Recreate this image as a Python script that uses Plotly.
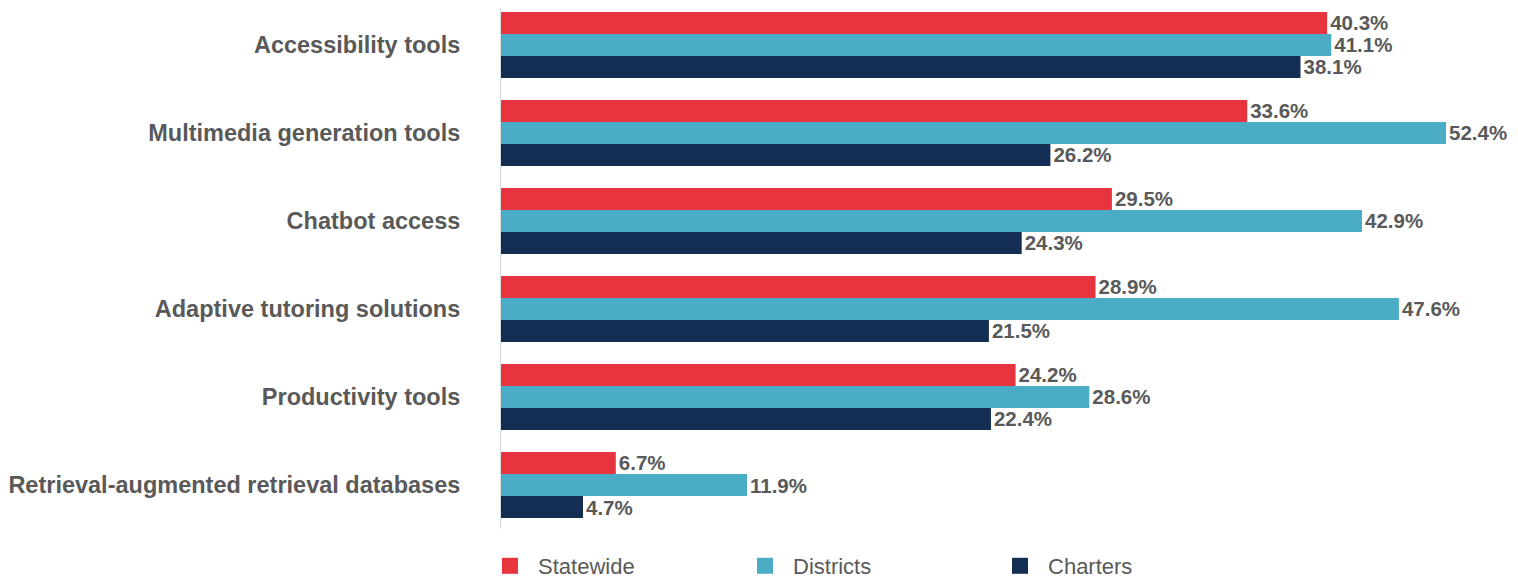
import plotly.graph_objects as go

categories = [
    "Accessibility tools",
    "Multimedia generation tools",
    "Chatbot access",
    "Adaptive tutoring solutions",
    "Productivity tools",
    "Retrieval-augmented retrieval databases",
]

# printed percentages (bar labels)
statewide = [40.3, 33.6, 29.5, 28.9, 24.2, 6.7]
districts = [41.1, 52.4, 42.9, 47.6, 28.6, 11.9]
charters = [38.1, 26.2, 24.3, 21.5, 22.4, 4.7]

# bar lengths as drawn in the source (not exactly proportional to the labels)
statewide_drawn = [40.3, 36.4, 29.8, 29.0, 25.1, 5.6]
districts_drawn = [40.5, 46.1, 42.0, 43.8, 28.7, 12.0]
charters_drawn = [39.0, 26.8, 25.4, 23.8, 23.9, 4.0]

series = [
    ("Statewide", statewide_drawn, statewide, "#E8343F"),
    ("Districts", districts_drawn, districts, "#4BACC6"),
    ("Charters", charters_drawn, charters, "#142D52"),
]

FONT = "Arial, Liberation Sans, sans-serif"
GRAY = "#595959"

fig = go.Figure()
for name, drawn, labels, color in series:
    fig.add_trace(
        go.Bar(
            y=categories,
            x=drawn,
            name=name,
            orientation="h",
            marker=dict(color=color, line=dict(width=0)),
            text=[f"{v:.1f}%" for v in labels],
            textposition="outside",
            constraintext="none",
            cliponaxis=False,
            textfont=dict(family=FONT, size=20.5, color=GRAY, weight="bold"),
            showlegend=False,
        )
    )
    # legend-only entry so the key can use a bigger square swatch
    fig.add_trace(
        go.Scatter(
            x=[None],
            y=[None],
            name=name,
            mode="markers",
            marker=dict(symbol="square", size=20, color=color),
        )
    )

# the page puts the figure 8px in from the top-left corner
fig.update_layout(
    barmode="group",
    bargap=0.25,
    bargroupgap=0,
    width=1510,
    height=570,
    margin=dict(l=493, r=33, t=0, b=49, autoexpand=False),
    plot_bgcolor="white",
    paper_bgcolor="white",
    font=dict(family=FONT, color=GRAY),
    legend=dict(
        orientation="h",
        x=-0.0193,
        xanchor="left",
        y=-0.071,
        yanchor="middle",
        itemwidth=46,
        font=dict(family=FONT, size=22, color=GRAY),
        entrywidth=194,
        entrywidthmode="pixels",
        traceorder="normal",
    ),
)

fig.update_xaxes(
    range=[0, 48],
    showgrid=False,
    showticklabels=False,
    zeroline=False,
    showline=False,
)

fig.update_yaxes(
    range=[5.5, -0.42],
    showgrid=False,
    showline=True,
    linecolor="#D9D9D9",
    linewidth=1,
    ticks="",
    ticklabelstandoff=35,
    tickfont=dict(family=FONT, size=23.5, color=GRAY, weight="bold"),
)

fig.write_html("out.html")
